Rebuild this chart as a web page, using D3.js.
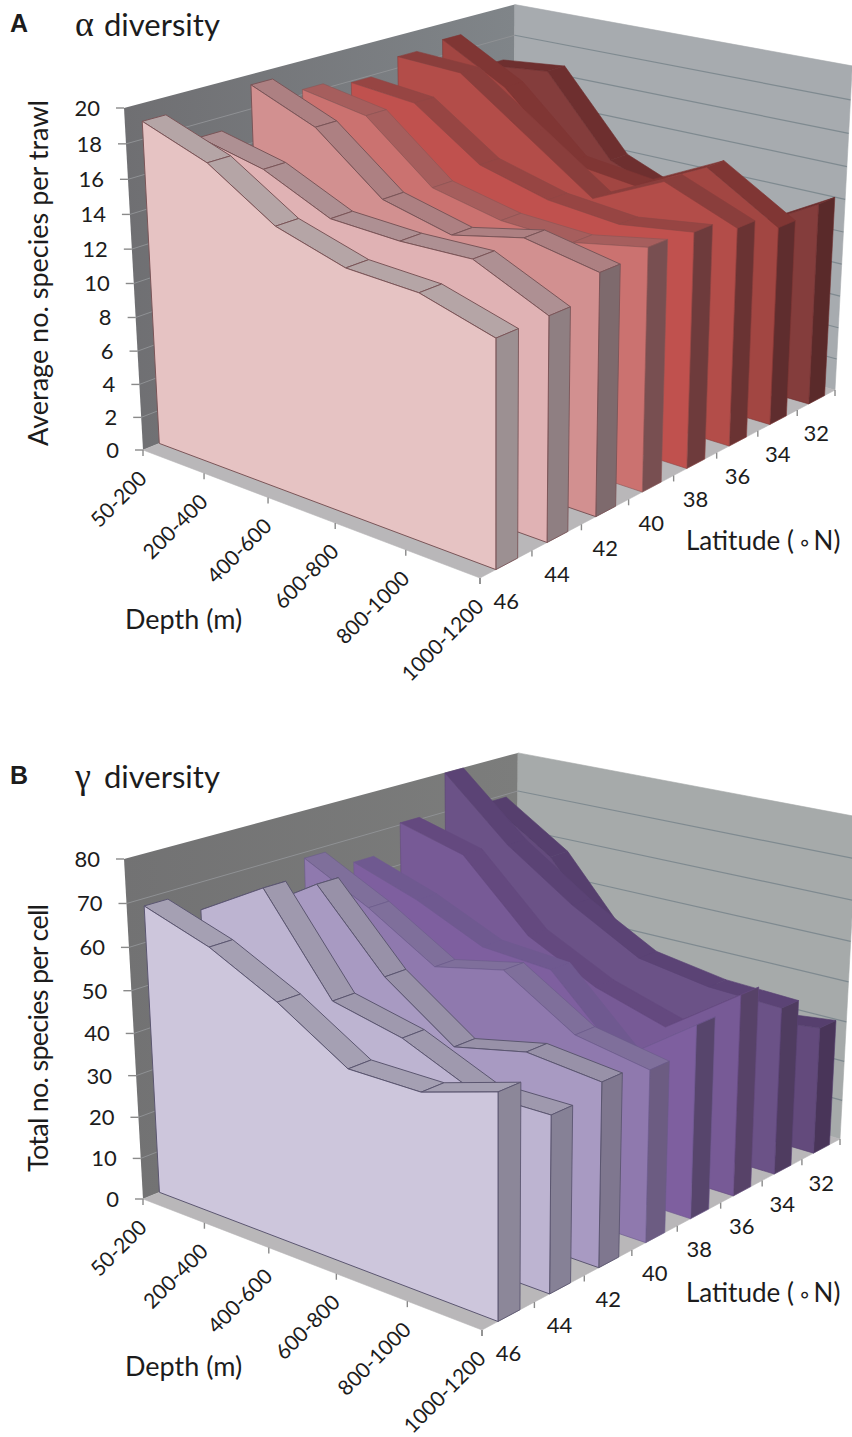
<!DOCTYPE html>
<html><head><meta charset="utf-8"><style>html,body{margin:0;background:#fff}svg{display:block}text{font-family:Lato,'Open Sans',sans-serif;fill:#1c1c1c}</style></head>
<body><script src="https://d3js.org/d3.v7.min.js"></script>
<script>
const depthBins=["50-200","200-400","400-600","600-800","800-1000","1000-1200"];
const latitudes=["46","44","42","40","38","36","34","32"];
const alphaTicks=[0,2,4,6,8,10,12,14,16,18,20];
const gammaTicks=[0,10,20,30,40,50,60,70,80];
const alpha46=[19.0,17.6,15.1,13.9,13.7,12.5];
const alpha44=[17.2,16.3,14.5,14.3,14.4,12.5];
const alpha42=[19.4,17.8,14.6,13.6,14.5,13.7];
const alpha40=[18.3,17.6,14.3,13.4,13.2,14.0];
const alpha38=[17.9,17.5,14.7,13.6,13.2,13.8];
const alpha36=[18.7,18.5,15.6,12.7,14.7,13.0];
const alpha34=[19.0,16.8,13.0,12.5,14.6,12.0];
const alpha32=[16.6,17.0,12.2,10.5,9.9,12.4];
const gamma46=[68.3,63.0,55.0,44.9,44.8,49.9];
const gamma44=[63.6,72.5,50.9,47.1,39.9,40.0];
const gamma42=[60.0,69.7,52.2,40.5,44.1,42.3];
const gamma40=[68.6,60.4,50.4,53.9,43.4,40.2];
const gamma38=[64.1,58.5,51.1,49.8,33.4,45.8];
const gamma36=[70.5,66.0,49.8,41.4,36.2,48.4];
const gamma34=[79.9,65.0,53.6,44.4,41.6,40.9];
const gamma32=[69.3,58.5,39.0,35.0,29.5,31.6];
const alphaFaces=["#e6c3c3","#e0b2b4","#d29090","#cb7270","#c0514e","#b34d49","#a24642","#843d3c"];
const alphaSides=["#9c9092","#8f7f82","#7e6a6d","#784f51","#6e3b3c","#6a3333","#5f2d2e","#5a2a2a"];
const alphaTops=["#b5a5a6","#ae9093","#ad8082","#a65e5d","#974543","#8a3e3c","#803634","#6e2f2f"];
const alphaEdges=["#7a5558","#7a5558","#7a5558","#8a5555","#8f4644","#8a3e3c","#803634","#6e2f2f"];
const gammaFaces=["#cdc6dc","#bdb4d1","#a89ac2","#8f79ae","#7e5f9f","#775a96","#6b5287","#634a7c"];
const gammaSides=["#8c8799","#868196","#7f778f","#6c5c82","#57456c","#574268","#4f3c60","#493559"];
const gammaTops=["#a5a0b3","#9f99ae","#9891a8","#7f6f9b","#6f5990","#64497f","#5b4375","#563f6e"];
const gammaEdges=["#5b5670","#5b5670","#5b5670","#6a5a8a","#6f5990","#64497f","#5b4375","#563f6e"];

const svg=d3.select("body").append("svg").attr("width",852).attr("height",1437);
const pScale=d3.scaleLinear().domain([0,depthBins.length-1]).range([1,0]);
const qScale=d3.scaleLinear().domain([0,latitudes.length]).range([0,1]);
const BAND0=.3,BAND1=.72;
function perspective(L,F,R,TL,TR,a,b){
 const A=[0,1].map(k=>L[k]*(1+a)-F[k]),B=[0,1].map(k=>R[k]*(1+b)-F[k]);
 const dv=[0,1].map(k=>L[k]*(1+a)-R[k]*(1+b)-TL[k]*(1+a)+TR[k]*(1+b));
 const dt=[TL[0]-TR[0],TL[1]-TR[1]];
 const g=(dv[0]*dt[0]+dv[1]*dt[1])/(dt[0]*dt[0]+dt[1]*dt[1]);
 const C=[0,1].map(k=>TL[k]*(1+a+g)-L[k]*(1+a));
 return (p,q,r)=>{const D=1+p*a+q*b+r*g;return [0,1].map(k=>(F[k]+p*A[k]+q*B[k]+r*C[k])/D);};
}
function panel(o){
 const g=svg.append("g");
 const P=perspective(o.L,o.F,o.R,o.TL,o.TR,.13,.2);
 const rScale=d3.scaleLinear().domain([0,o.max]).range([0,1]);
 const poly=(pts,fill,stroke,sw)=>g.append("polygon").attr("points",pts.map(d=>d.map(v=>v.toFixed(2)).join(",")).join(" ")).attr("fill",fill).attr("stroke",stroke||fill).attr("stroke-width",sw||.6).attr("stroke-linejoin","round");
 const line=(a,b,c,w)=>g.append("line").attr("x1",a[0]).attr("y1",a[1]).attr("x2",b[0]).attr("y2",b[1]).attr("stroke",c).attr("stroke-width",w||1);
 const grad=o.id+"w";
 const lg=svg.append("defs").append("linearGradient").attr("id",grad).attr("x1",0).attr("x2",1).attr("y1",0).attr("y2",0);
 lg.append("stop").attr("offset",0).attr("stop-color",o.wall0);
 lg.append("stop").attr("offset",1).attr("stop-color",o.wall1);
 poly([P(1,0,0),P(1,0,1),P(1,1,1),P(1,1,0)],`url(#${grad})`,"none",0);
 poly([P(1,1,0),P(1,1,1),P(0,1,1),P(0,1,0)],o.wall2);
 poly([P(1,0,0),P(0,0,0),P(0,1,0),P(1,1,0)],"#b9b7b9");
 o.ticks.forEach(t=>{ if(t===0||t===o.max) return; const r=rScale(t);
  line(P(1,0,r),P(1,1,r),"#8f9194",1); line(P(1,1,r),P(0,1,r),"#7f8a90",1.2); });
 o.ticks.forEach(t=>{const a=P(1,0,rScale(t));
  line([a[0]-8,a[1]],a,"#8a8a8a",1.4);
  g.append("text").attr("x",a[0]-24).attr("y",a[1]+8).attr("text-anchor","end").style("font-size","22px").text(t);});
 depthBins.forEach((d,i)=>{const a=P(pScale(i),0,0);
  line(a,[a[0],a[1]+6],"#8a8a8a",1.4);
  g.append("text").attr("text-anchor","end").attr("transform",`translate(${a[0]+5},${a[1]+30}) rotate(-45)`).style("font-size","21px").text(d);});
 d3.range(latitudes.length+1).forEach(i=>{const a=P(0,qScale(i),0);line(a,[a[0],a[1]+6],"#8a8a8a",1.4);});
 latitudes.forEach((d,i)=>{const a=P(0,qScale(i+.5),0);
  g.append("text").attr("x",a[0]).attr("y",a[1]+45-i*.5).attr("text-anchor","middle").style("font-size","22px").text(d);});
 d3.range(latitudes.length-1,-1,-1).forEach(i=>{
  const v=o.values[i],q0=qScale(i+BAND0),q1=qScale(i+BAND1);
  const top=(j,q)=>P(pScale(j),q,rScale(v[j]));
  v.forEach((_,j)=>{ if(j===v.length-1) return;
   poly([top(j,q0),top(j,q1),top(j+1,q1),top(j+1,q0)],o.tops[i],o.edges[i],i<3?1:.6);});
  const e=v.length-1;
  poly([P(0,q0,0),top(e,q0),top(e,q1),P(0,q1,0)],o.sides[i],o.edges[i],i<3?.9:.6);
  poly([P(1,q0,0),...v.map((_,j)=>top(j,q0)),P(0,q0,0)],o.faces[i],o.edges[i],i<3?1:.6);
 });
 g.append("text").attr("x",10).attr("y",o.panelY).style("font-family","'Liberation Sans'").style("font-weight","700").style("font-size","25px").text(o.id);
 g.append("text").attr("x",75).attr("y",o.titleY).style("font-family","'Liberation Serif'").style("font-size","36px").text(o.greek);
 g.append("text").attr("x",104).attr("y",o.titleY).style("font-size","31px").text("diversity");
 g.append("text").attr("transform",`translate(48,${o.yCenter}) rotate(-90)`).attr("text-anchor","middle").attr("textLength",o.yLength).attr("lengthAdjust","spacing").style("font-size","27px").text(o.yTitle);
 g.append("text").attr("x",125).attr("y",o.depthY).style("font-size","27px").text("Depth (m)");
 const lat=g.append("text").attr("x",686).attr("y",o.latY).style("font-size","26px");
 lat.append("tspan").text("Latitude (");
 lat.append("tspan").attr("dx",4).style("font-family","'DejaVu Sans'").style("font-size","22px").text("\u2218");
 lat.append("tspan").attr("dx",2).text("N)");
}
panel({id:"A",greek:"\u03b1",L:[143,450],F:[480,578],R:[835,390],TL:[124,108],TR:[852,62],max:20,ticks:alphaTicks,wall0:"#6f6f72",wall1:"#808589",wall2:"#a7abaf",
 values:[alpha46,alpha44,alpha42,alpha40,alpha38,alpha36,alpha34,alpha32],faces:alphaFaces,sides:alphaSides,tops:alphaTops,edges:alphaEdges,
 panelY:32,titleY:36,yCenter:273,yLength:346,yTitle:"Average no. species per trawl",depthY:629,latY:550});
panel({id:"B",greek:"\u03b3",L:[143,1199],F:[482,1330],R:[840,1139],TL:[124,859],TR:[857,811],max:80,ticks:gammaTicks,wall0:"#727273",wall1:"#7c7d7c",wall2:"#a6aaaa",
 values:[gamma46,gamma44,gamma42,gamma40,gamma38,gamma36,gamma34,gamma32],faces:gammaFaces,sides:gammaSides,tops:gammaTops,edges:gammaEdges,
 panelY:784,titleY:788,yCenter:1038,yLength:268,yTitle:"Total no. species per cell",depthY:1376,latY:1302});
</script></body></html>
